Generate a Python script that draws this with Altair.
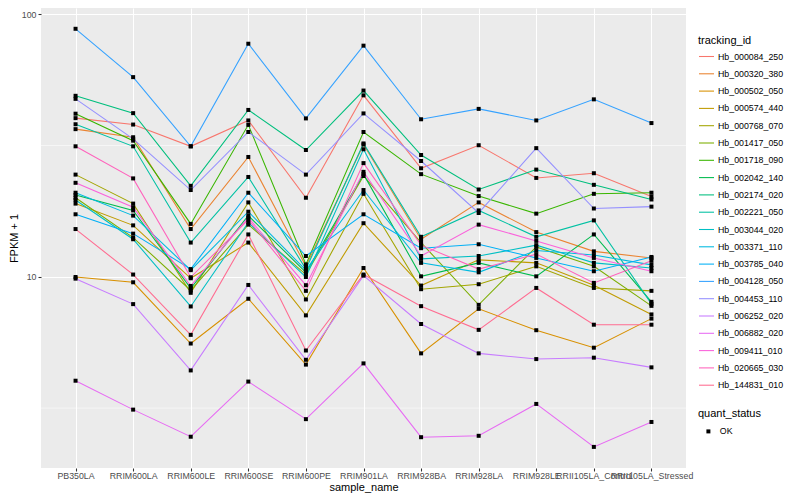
import altair as alt
import pandas as pd

samples = ["PB350LA", "RRIM600LA", "RRIM600LE", "RRIM600SE", "RRIM600PE", "RRIM901LA",
           "RRIM928BA", "RRIM928LA", "RRIM928LE", "RRII105LA_Control", "RRII105LA_Stressed"]

tracking_ids = ["Hb_000084_250", "Hb_000320_380", "Hb_000502_050", "Hb_000574_440", "Hb_000768_070",
                "Hb_001417_050", "Hb_001718_090", "Hb_002042_140", "Hb_002174_020", "Hb_002221_050",
                "Hb_003044_020", "Hb_003371_110", "Hb_003785_040", "Hb_004128_050", "Hb_004453_110",
                "Hb_006252_020", "Hb_006882_020", "Hb_009411_010", "Hb_020665_030", "Hb_144831_010"]

colors = ["#F8766D", "#EA8331", "#D89000", "#C09B00", "#A3A500", "#7CAE00", "#39B600", "#00BB4E",
          "#00BF7D", "#00C1A3", "#00BFC4", "#00BAE0", "#00B0F6", "#35A2FF", "#9590FF", "#C77CFF",
          "#E76BF3", "#FA62DB", "#FF62BC", "#FF6C91"]

hb_000084_250 = [40.2, 38.0, 31.4, 39.4, 20.0, 49.1, 25.9, 31.7, 23.8, 24.8, 20.2]
hb_000320_380 = [36.5, 34.0, 15.2, 28.6, 10.96, 31.9, 13.9, 19.2, 14.8, 12.5, 11.8]
hb_000502_050 = [9.98, 9.53, 5.57, 8.25, 4.63, 10.8, 5.11, 7.55, 6.26, 5.37, 6.93]
hb_000574_440 = [19.0, 15.7, 9.87, 13.5, 7.13, 16.0, 9.26, 11.6, 11.3, 9.29, 7.19]
hb_000768_070 = [24.5, 19.0, 8.69, 19.2, 8.20, 20.7, 8.97, 9.37, 10.96, 9.07, 8.84]
hb_001417_050 = [20.0, 14.1, 8.87, 15.8, 10.2, 24.2, 13.5, 7.82, 13.0, 10.96, 7.75]
hb_001718_090 = [41.8, 33.0, 15.9, 37.9, 11.15, 35.6, 24.6, 20.3, 17.4, 20.7, 20.9]
hb_002042_140 = [20.5, 17.9, 9.03, 17.1, 10.4, 24.6, 10.04, 11.3, 10.04, 14.5, 8.03]
hb_002174_020 = [48.9, 42.0, 22.2, 43.2, 30.4, 51.2, 29.1, 21.5, 25.6, 22.4, 19.7]
hb_002221_050 = [38.1, 31.4, 13.5, 24.0, 10.7, 32.2, 14.2, 17.9, 14.2, 16.4, 7.89]
hb_003044_020 = [19.6, 13.9, 7.71, 16.1, 9.98, 30.6, 11.7, 12.0, 13.2, 11.3, 10.8]
hb_003371_110 = [20.9, 17.1, 10.6, 17.7, 10.6, 21.4, 11.3, 10.4, 12.6, 12.1, 11.1]
hb_003785_040 = [17.3, 14.6, 10.7, 20.9, 12.0, 17.3, 12.85, 13.3, 11.8, 10.5, 11.9]
hb_004128_050 = [88.0, 57.6, 31.4, 77.2, 40.1, 75.9, 39.8, 43.6, 39.4, 47.4, 38.5]
hb_004453_110 = [47.6, 33.5, 21.4, 35.6, 24.5, 41.9, 27.6, 17.5, 30.9, 18.2, 18.5]
hb_006252_020 = [9.84, 7.87, 4.40, 9.31, 4.83, 10.1, 6.61, 5.11, 4.86, 4.92, 4.52]
hb_006882_020 = [4.02, 3.12, 2.46, 3.99, 2.87, 4.68, 2.45, 2.48, 3.28, 2.25, 2.80]
hb_009411_010 = [22.8, 18.4, 9.23, 16.8, 9.29, 25.1, 12.0, 15.8, 13.7, 11.8, 10.5]
hb_020665_030 = [31.4, 23.7, 9.96, 16.5, 8.84, 27.1, 13.2, 10.7, 12.2, 9.48, 11.5]
hb_144831_010 = [15.2, 10.2, 6.01, 14.5, 5.24, 10.2, 7.73, 6.28, 9.07, 6.57, 6.57]

series = [hb_000084_250, hb_000320_380, hb_000502_050, hb_000574_440, hb_000768_070,
          hb_001417_050, hb_001718_090, hb_002042_140, hb_002174_020, hb_002221_050,
          hb_003044_020, hb_003371_110, hb_003785_040, hb_004128_050, hb_004453_110,
          hb_006252_020, hb_006882_020, hb_009411_010, hb_020665_030, hb_144831_010]

major_breaks = [10, 100]
minor_breaks = [3.1623, 31.623]
y_domain = [1.87, 105.6]

rows = []
for tid, vals in zip(tracking_ids, series):
    for s, v in zip(samples, vals):
        rows.append({"tracking_id": tid, "sample_name": s, "fpkm": v, "quant_status": "OK"})
df = pd.DataFrame(rows)
minor_df = pd.DataFrame({"fpkm": minor_breaks})

yscale = alt.Scale(type="log", domain=y_domain, nice=False)
x_enc = alt.X("sample_name:N", sort=samples,
              scale=alt.Scale(type="point", padding=0.6),
              axis=alt.Axis(title="sample_name", labelAngle=0, labelOverlap=False,
                            grid=True, gridColor="white", gridWidth=1.07,
                            domain=False, tickColor="#333333", tickSize=3, tickWidth=1.07,
                            labelColor="#4D4D4D", labelFontSize=8.8, labelPadding=0,
                            titleFontSize=11, titleColor="black", titleFontWeight="normal",
                            titlePadding=2))
y_axis = alt.Axis(title="FPKM + 1", values=major_breaks, format=".0f",
                  grid=True, gridColor="white", gridWidth=1.07,
                  domain=False, tickColor="#333333", tickSize=3, tickWidth=1.07,
                  labelColor="#4D4D4D", labelFontSize=8.8, labelPadding=2,
                  titleFontSize=11, titleColor="black", titleFontWeight="normal",
                  titlePadding=2)

minor = alt.Chart(minor_df).mark_rule(color="white", strokeWidth=0.55).encode(
    y=alt.Y("fpkm:Q", scale=yscale, axis=y_axis)
)

lines = alt.Chart(df).mark_line(strokeWidth=1.07).encode(
    x=x_enc,
    y=alt.Y("fpkm:Q", scale=yscale, axis=y_axis),
    color=alt.Color("tracking_id:N",
                    scale=alt.Scale(domain=tracking_ids, range=colors),
                    legend=alt.Legend(title="tracking_id", orient="none", legendX=657, legendY=27,
                                      symbolType="stroke", symbolSize=225, symbolStrokeWidth=1.07,
                                      rowPadding=3.3, labelOffset=3, titlePadding=2,
                                      titleFontSize=11, titleFontWeight="normal", titleColor="black",
                                      labelFontSize=8.8, labelColor="black")),
)

points = alt.Chart(df).mark_point(shape="square", filled=True, size=16, color="black", opacity=1).encode(
    x=x_enc,
    y=alt.Y("fpkm:Q", scale=yscale, axis=y_axis),
    shape=alt.Shape("quant_status:N", scale=alt.Scale(domain=["OK"], range=["square"]),
                    legend=alt.Legend(title="quant_status", orient="none", legendX=657, legendY=400,
                                      symbolSize=16, symbolFillColor="black", symbolStrokeColor="black",
                                      symbolOffset=6, labelOffset=7, titlePadding=8, rowPadding=2,
                                      titleFontSize=11, titleFontWeight="normal", titleColor="black",
                                      labelFontSize=8.8, labelColor="black")),
    detail="tracking_id:N",
)

chart = alt.layer(minor, lines, points).properties(
    width=645, height=460, padding={"left": 0, "top": 0, "right": 0, "bottom": 0}
).configure(font="Liberation Sans").configure_view(fill="#EBEBEB", stroke=None)

chart.save("out.html", embed_options={"renderer": "svg", "actions": False})
